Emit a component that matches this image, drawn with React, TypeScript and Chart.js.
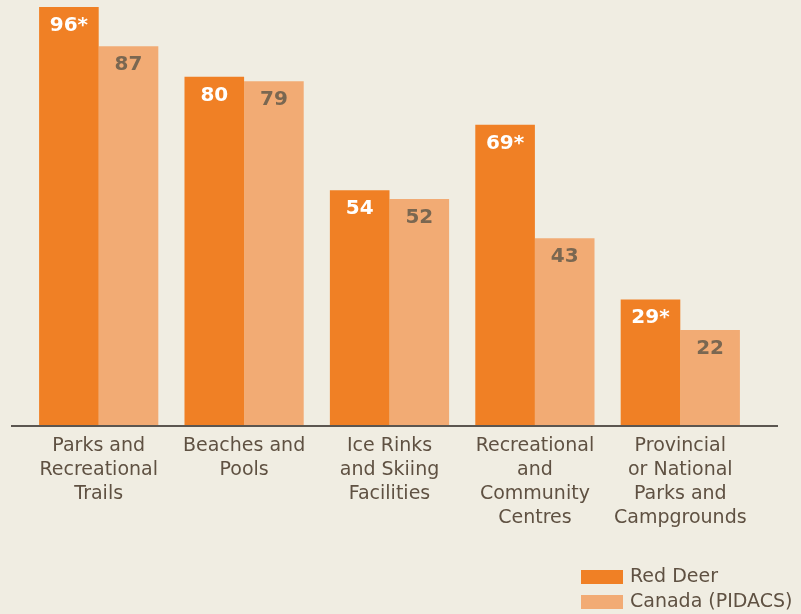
import React, { useEffect, useRef } from "react";
import { Chart, registerables } from "chart.js";

Chart.register(...registerables);

const categories: string[][] = [
  ["Parks and", "Recreational", "Trails"],
  ["Beaches and", "Pools"],
  ["Ice Rinks", "and Skiing", "Facilities"],
  ["Recreational", "and", "Community", "Centres"],
  ["Provincial", "or National", "Parks and", "Campgrounds"],
];
const redDeer = [96, 80, 54, 69, 29];
const canada = [87, 79, 52, 43, 22];
const redDeerLabels = ["96*", "80", "54", "69*", "29*"];
const canadaLabels = ["87", "79", "52", "43", "22"];
const seriesNames = ["Red Deer", "Canada (PIDACS)"];

const BG = "#f0ede2";
const ORANGE = "#f08025";
const LIGHT = "#f2ab74";
const TEXT = "#5f5142";
const FONT = "'DejaVu Sans', sans-serif";

export default function App() {
  const ref = useRef<HTMLCanvasElement | null>(null);
  useEffect(() => {
    if (!ref.current) return;
    const labelColors = ["#ffffff", "#7a6751"];
    const valueLabels = [redDeerLabels, canadaLabels];
    const plugin = {
      id: "custom",
      afterDatasetsDraw(chart: any) {
        const ctx = chart.ctx;
        ctx.save();
        chart.data.datasets.forEach((ds: any, di: number) => {
          const meta = chart.getDatasetMeta(di);
          meta.data.forEach((bar: any, i: number) => {
            ctx.font = `bold 20px ${FONT}`;
            ctx.fillStyle = labelColors[di];
            ctx.textAlign = "center";
            ctx.textBaseline = "middle";
            ctx.fillText(valueLabels[di][i], bar.x, bar.y + 18.5);
          });
        });
        const y0 = chart.scales.y.getPixelForValue(0);
        ctx.strokeStyle = "#5b5650";
        ctx.lineWidth = 2;
        ctx.beginPath();
        ctx.moveTo(11, Math.round(y0));
        ctx.lineTo(778, Math.round(y0));
        ctx.stroke();
        const colors = [ORANGE, LIGHT];
        const ys = [570, 595];
        ctx.font = `19px ${FONT}`;
        ctx.textAlign = "left";
        ctx.textBaseline = "middle";
        seriesNames.forEach((n, i) => {
          ctx.fillStyle = colors[i];
          ctx.fillRect(581, ys[i], 42, 14);
          ctx.fillStyle = TEXT;
          ctx.fillText(n, 630, ys[i] + 7);
        });
        ctx.restore();
      },
    };
    const chart = new Chart(ref.current, {
      type: "bar",
      data: {
        labels: categories as any,
        datasets: [
          { label: seriesNames[0], data: redDeer, backgroundColor: ORANGE },
          { label: seriesNames[1], data: canada, backgroundColor: LIGHT },
        ],
      },
      options: {
        responsive: false,
        animation: false,
        layout: { padding: { left: 26, right: 48, top: 0, bottom: 76 } },
        datasets: { bar: { categoryPercentage: 0.82, barPercentage: 1 } },
        plugins: { legend: { display: false }, tooltip: { enabled: false } },
        scales: {
          x: {
            grid: { display: false, drawTicks: false },
            border: { display: false },
            ticks: {
              color: TEXT,
              font: { family: FONT, size: 19, lineHeight: 24 / 19 },
              padding: 8,
              maxRotation: 0,
              autoSkip: false,
            },
          },
          y: { display: false, min: 0, max: 97.6 },
        },
      },
      plugins: [plugin],
    });
    return () => chart.destroy();
  }, []);
  return (
    <div style={{ position: "absolute", left: 0, top: 0, width: 801, height: 614, background: BG }}>
      <canvas ref={ref} width={801} height={614} />
    </div>
  );
}
